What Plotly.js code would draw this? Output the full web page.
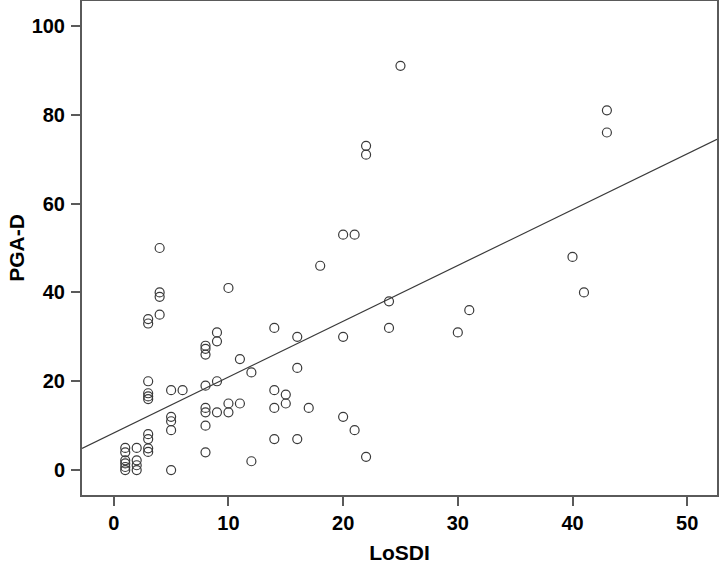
<!DOCTYPE html>
<html>
<head>
<meta charset="utf-8">
<script src="https://cdn.plot.ly/plotly-3.0.1.min.js"></script>
<style>html,body{margin:0;padding:0;background:#fff;}#chart{width:720px;height:564px;}</style>
</head>
<body>
<div id="chart"></div>
<script>
// LoSDI values (x)
const losdi = [1,1,1,1,1,1, 2,2,2,2, 3,3,3,3,3,3,3,3,3,3, 4,4,4,4, 5,5,5,5,5, 6,
  8,8,8,8,8,8,8,8, 9,9,9,9, 10,10,10, 11,11, 12,12, 14,14,14,14, 15,15, 16,16,16, 17, 18,
  20,20,20, 21,21, 22,22,22, 24,24, 25, 30, 31, 40, 41, 43,43];
// PGA-D values (y)
const pgad = [5,4,2.2,1.5,0.7,0, 5,2.2,1.1,0, 34,33,20,17.3,16.6,16,8.1,7,4.9,4.1, 50,40,39,35, 18,12,11,9,0, 18,
  28,27.3,26,19,14,13,10,4, 31,29,20,13, 41,15,13, 25,15, 22,2, 32,18,14,7, 17,15, 30,23,7, 14, 46,
  53,30,12, 53,9, 73,71,3, 38,32, 91, 31, 36, 48, 40, 81,76];
const xTicks = [0,10,20,30,40,50];
const yTicks = [0,20,40,60,80,100];
const xRange = [-2.77, 52.6];
const yRange = [-5.6, 105.6];

// least-squares fit line
const n = losdi.length;
let sx=0, sy=0, sxx=0, sxy=0;
for (let i=0;i<n;i++){sx+=losdi[i];sy+=pgad[i];sxx+=losdi[i]*losdi[i];sxy+=losdi[i]*pgad[i];}
const slope = (n*sxy - sx*sy)/(n*sxx - sx*sx);
const icpt = (sy - slope*sx)/n;
const fitX = [xRange[0], xRange[1]];
const fitY = fitX.map(v => icpt + slope*v);

const font = "Liberation Sans, Arial, sans-serif";
const data = [
  {x: losdi, y: pgad, type: 'scatter', mode: 'markers', cliponaxis: false,
   marker: {symbol: 'circle-open', size: 9, color: '#3a3a3a', line: {width: 1.2, color: '#3a3a3a'}},
   hoverinfo: 'x+y'},
  {x: fitX, y: fitY, type: 'scatter', mode: 'lines', line: {color: '#3a3a3a', width: 1.2}, hoverinfo: 'skip'}
];
const axisCommon = {
  showgrid: false, zeroline: false, showline: true, linecolor: '#5a5a5a', linewidth: 2, mirror: true,
  ticks: 'outside', ticklen: 9, tickwidth: 2, tickcolor: '#5a5a5a',
  tickfont: {family: font, size: 20, color: '#000', weight: 'bold'}
};
const layout = {
  width: 720, height: 564,
  margin: {l: 82, r: 3, t: 1, b: 69},
  paper_bgcolor: '#fff', plot_bgcolor: '#fff',
  showlegend: false,
  xaxis: Object.assign({}, axisCommon, {range: xRange, tickvals: xTicks, ticktext: xTicks.map(String),
    title: {text: 'LoSDI', font: {family: font, size: 21, color: '#000', weight: 'bold'}, standoff: 19}}),
  yaxis: Object.assign({}, axisCommon, {range: yRange, tickvals: yTicks, ticktext: yTicks.map(String),
    ticklabelstandoff: 2,
    title: {text: 'PGA-D', font: {family: font, size: 21, color: '#000', weight: 'bold'}, standoff: 1}})
};
Plotly.newPlot('chart', data, layout, {displayModeBar: false, staticPlot: true});
</script>
</body>
</html>
